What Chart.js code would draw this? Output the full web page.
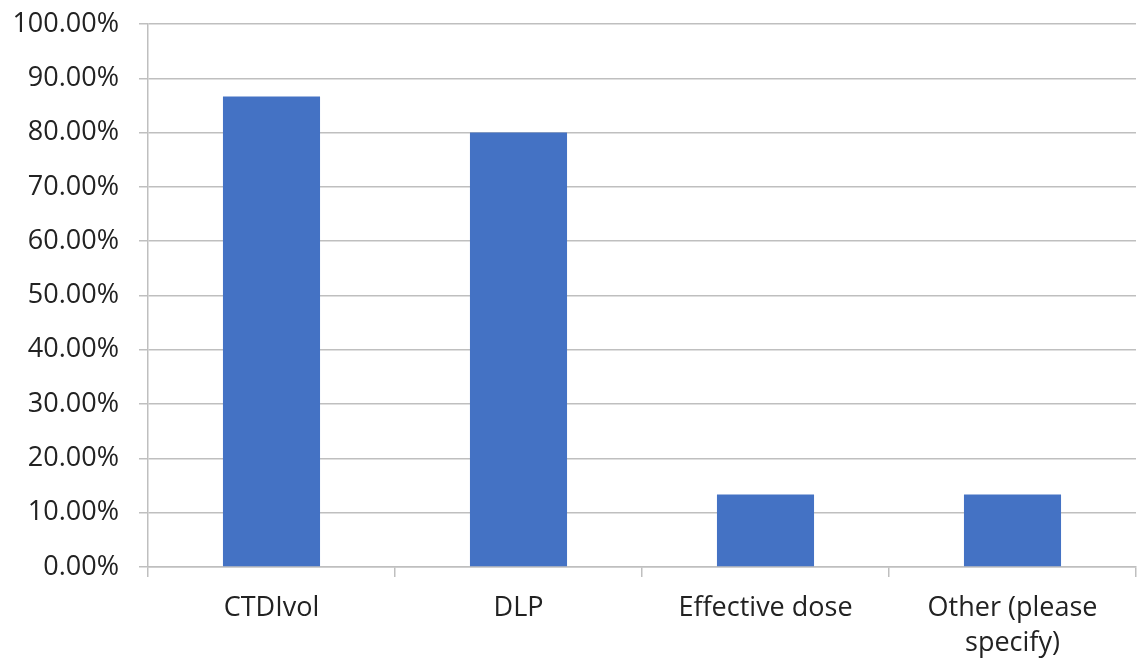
<!DOCTYPE html>
<html>
<head>
<meta charset="utf-8">
<script src="https://cdn.jsdelivr.net/npm/chart.js@4"></script>
<style>
  html, body { margin: 0; padding: 0; background: #ffffff; overflow: hidden; }
  #wrap { width: 1138px; height: 661px; position: relative; }
</style>
</head>
<body>
<div id="wrap"><canvas id="chart"></canvas></div>
<script>
// Categories (multi-line labels are given as arrays)
const categories = ['CTDIvol', 'DLP', 'Effective dose', ['Other (please', 'specify)']];
// Share of respondents for each dose quantity, in percent
const shares = [86.67, 80.00, 13.33, 13.33];
// Y-axis scale
const yMin = 0;
const yMax = 100;
const yStep = 10;

const gridGray = '#BFBFBF';
const textColor = '#222222';
const fontFamily = "'Open Sans', 'Liberation Sans', sans-serif";

new Chart(document.getElementById('chart'), {
  type: 'bar',
  data: {
    labels: categories,
    datasets: [{
      data: shares,
      backgroundColor: '#4472C4',
      borderWidth: 0,
      barPercentage: 0.393,
      categoryPercentage: 1.0
    }]
  },
  options: {
    responsive: true,
    maintainAspectRatio: false,
    animation: false,
    layout: { padding: { top: 0, right: 2, left: 0, bottom: 0 } },
    plugins: {
      legend: { display: false },
      tooltip: { enabled: false }
    },
    scales: {
      x: {
        grid: {
          offset: true,
          drawOnChartArea: false,
          drawTicks: true,
          tickLength: 10,
          color: gridGray,
          lineWidth: 1.5
        },
        border: { display: true, color: gridGray, width: 1.5 },
        ticks: {
          color: textColor,
          font: { family: fontFamily, size: 27, lineHeight: 1.3 },
          padding: 14,
          maxRotation: 0,
          autoSkip: false
        },
        afterFit: (s) => { s.height = 94; }
      },
      y: {
        min: yMin,
        max: yMax,
        grid: {
          color: gridGray,
          lineWidth: 1.5,
          drawTicks: true,
          tickLength: 9
        },
        border: { display: true, color: gridGray, width: 1.5 },
        ticks: {
          stepSize: yStep,
          color: textColor,
          font: { family: fontFamily, size: 27 },
          padding: 20,
          callback: (v) => v.toFixed(2) + '%'
        },
        afterFit: (s) => { s.width = 148; s.paddingTop = 24; }
      }
    }
  }
});
</script>
</body>
</html>
